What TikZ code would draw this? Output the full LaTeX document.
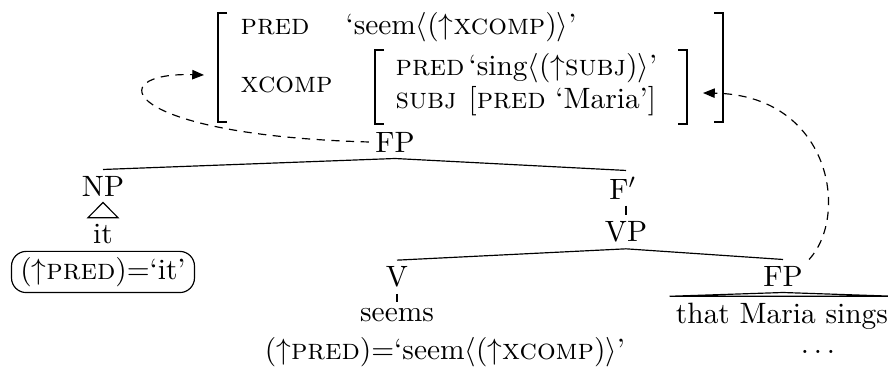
\documentclass[tikz,border=0pt]{standalone}
\usetikzlibrary{arrows.meta,calc}
\begin{document}
\begin{tikzpicture}[x=0.34pt,y=-0.34pt,
  cat/.style={inner sep=2pt},
  edge/.style={line width=0.4pt},
  brk/.style={line width=1pt},
  link/.style={line width=0.4pt, dash pattern=on 2.8pt off 2.2pt, -{Triangle[length=4pt,width=3.2pt]}},
  feat/.style={anchor=base west, inner sep=0pt},
  fbox/.style={draw, rounded corners=5pt, inner xsep=3pt, inner ysep=2pt}]
\useasboundingbox (0,0) rectangle (888,381);
% AVM brackets
\draw[brk] (227,13) -- (218,13) -- (218,122) -- (227,122);
\draw[brk] (714,13) -- (723,13) -- (723,122) -- (714,122);
\draw[brk] (384,50) -- (375,50) -- (375,124) -- (384,124);
\draw[brk] (678,50) -- (687,50) -- (687,124) -- (678,124);
% AVM contents
\node[feat] (p1) at (240,35) {\textsc{pred}};
\node[feat] (v1) at (345,35) {‘seem$\langle(\uparrow$\textsc{xcomp}$)\rangle$’};
\node[feat] (xc) at (240,93) {\textsc{xcomp}};
\node[feat] (p2) at (395,76) {\textsc{pred}};
\node[feat] (v2) at (468,76) {‘sing$\langle(\uparrow$\textsc{subj}$)\rangle$’};
\node[feat] (s2) at (395,109) {\textsc{subj}};
\node[feat] (v3) at (468,109) {[\textsc{pred} ‘Maria’]};
\coordinate (lt) at (204,75);
\coordinate (rt) at (703,93);
% tree
\node[cat] (fp) at (395,142) {FP};
\node[cat] (np) at (103,186) {NP};
\node[cat] (it) at (103,234) {it};
\node[fbox] (itf) at (103,272) {($\uparrow$\textsc{pred})=‘it’};
\node[cat] (fbar) at (623,188) {F$'$};
\node[cat] (vp) at (626,232) {VP};
\node[cat] (v) at (397,277) {V};
\node[cat] (seems) at (397,315) {seems};
\node[cat] (fp2) at (783,276) {FP};
\node[cat] (tms) at (782,316) {that Maria sings};
\node[cat] (ann1) at (445,352) {($\uparrow$\textsc{pred})=‘seem$\langle(\uparrow$\textsc{xcomp}$)\rangle$’};
\node[cat] (ann2) at (818,352) {$\dots$};
% edges
\draw[edge] (fp.south) -- (np.north);
\draw[edge] (fp.south) -- (vp.north |- fbar.north);
\draw[edge] (vp.north |- fbar.south) -- (vp.north);
\draw[edge] (vp.south) -- (v.north);
\draw[edge] (vp.south) -- (fp2.north);
\draw[edge] (v.south) -- (seems.north);
\draw[edge] (np.south) -- ($(it.north)+(-15,0)$) -- ($(it.north)+(15,0)$) -- cycle;
\draw[edge] (fp2.south) -- (tms.north west) -- (tms.north east) -- cycle;
% links
\draw[link] (fp.west) .. controls (120,135) and (100,72) .. (lt);
\draw[link] (fp2.north east) .. controls (850,215) and (830,95) .. (rt);
\end{tikzpicture}
\end{document}
